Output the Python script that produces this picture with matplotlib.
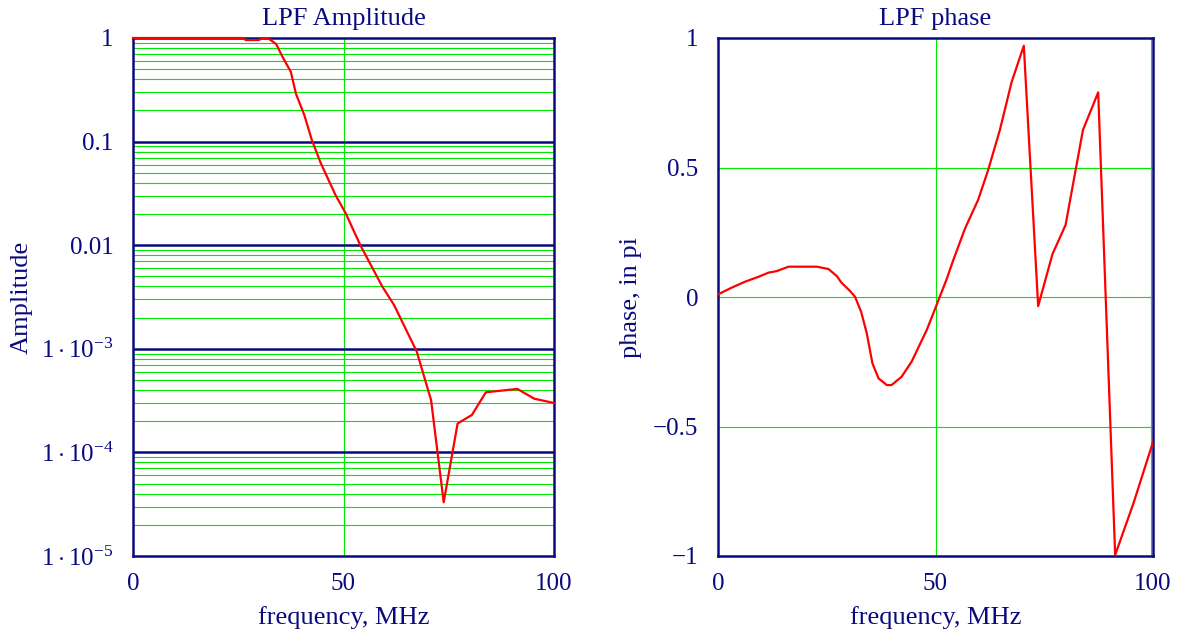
import numpy as np
import matplotlib
matplotlib.use('Agg')
import matplotlib.pyplot as plt
from matplotlib.ticker import FixedLocator, NullLocator

# Data:
freq_amp = [0, 26, 26.8, 29.8, 31, 32.3, 34, 35.5, 37.5, 38.7, 40.7, 42.5, 44.6,
            48.1, 50.5, 54, 59.2, 62, 67.4, 70.8, 73.8, 77.1, 80.5, 83.8,
            91.3, 95.3, 100]
amplitude = [1.0, 1.0, 0.956, 0.956, 1.0, 0.98, 0.875, 0.66, 0.47, 0.29, 0.18,
             0.103, 0.062, 0.0305, 0.0204, 0.0100, 0.0040, 0.00265, 0.00094,
             3.2e-4, 3.3e-5, 1.9e-4, 2.3e-4, 3.8e-4, 4.1e-4, 3.3e-4, 3.0e-4]

freq_phase = [0, 3, 6.2, 9.3, 11.6, 13.5, 16.2, 22.7, 25.4, 27.3, 28.4, 30.3,
              31.5, 32.9, 34.2, 35.5, 36.9, 38.8, 39.9, 42.2, 44.5, 48, 49.5,
              52.5, 54.1, 56.8, 59.8, 62.1, 64.8, 67.5, 70.3, 73.6, 76.9, 79.9,
              83.9, 87.4, 91.3, 95.5, 100]
phase = [0.01, 0.035, 0.059, 0.078, 0.094, 0.100, 0.117, 0.117, 0.108, 0.081,
         0.055, 0.024, 0.001, -0.057, -0.14, -0.256, -0.314, -0.34, -0.34,
         -0.308, -0.25, -0.127, -0.063, 0.066, 0.143, 0.265, 0.375, 0.49,
         0.645, 0.83, 0.97, -0.035, 0.166, 0.278, 0.645, 0.79, -0.996, -0.797,
         -0.56]

amp_ticks = [1, 0.1, 0.01, 1e-3, 1e-4, 1e-5]
amp_ticklabels = ['1', '0.1', '0.01', r'$1\cdot10^{-3}$', r'$1\cdot10^{-4}$',
                  r'$1\cdot10^{-5}$']
phase_ticks = [1, 0.5, 0, -0.5, -1]
phase_ticklabels = ['1', '0.5', '0', '\u22120.5', '\u22121']
x_ticks = [0, 50, 100]

navy = '#0a0a80'
green = '#00e800'

plt.rcParams['font.family'] = ['Liberation Serif', 'DejaVu Serif']
plt.rcParams['mathtext.fontset'] = 'custom'
plt.rcParams['mathtext.rm'] = 'Liberation Serif'
plt.rcParams['mathtext.it'] = 'Liberation Serif'
plt.rcParams['font.size'] = 16

fig = plt.figure(figsize=(11.78, 6.3), dpi=100)
ax1 = fig.add_axes([133/1178, 1-556/630, 421/1178, 518/630])
ax2 = fig.add_axes([718/1178, 1-556/630, 435/1178, 518/630])

# Amplitude (log scale)
ax1.set_yscale('log')
ax1.set_xlim(0, 100)
ax1.set_ylim(1e-5, 1)
for dec in range(-5, 0):
    for m in range(2, 10):
        ax1.axhline(m * 10.0**dec, color=green, lw=0.8, zorder=1)
for dec in [1e-4, 1e-3, 1e-2, 1e-1]:
    ax1.axhline(dec, color=navy, lw=1.8, zorder=1.5)
ax1.axvline(50, color=green, lw=0.8, zorder=1)
ax1.plot(freq_amp, amplitude, color='red', lw=1.6, zorder=3, clip_on=False)
ax1.yaxis.set_major_locator(FixedLocator(amp_ticks))
ax1.yaxis.set_minor_locator(NullLocator())
ax1.set_yticklabels(amp_ticklabels)
ax1.set_xticks(x_ticks)
ax1.set_title('LPF Amplitude', color=navy, fontsize=19, pad=9)
ax1.set_xlabel('frequency, MHz', color=navy, fontsize=19, labelpad=8)
ax1.set_ylabel('Amplitude', color=navy, fontsize=19, labelpad=6)

# Phase
ax2.set_xlim(0, 100)
ax2.set_ylim(-1, 1)
for v in [-0.5, 0, 0.5]:
    ax2.axhline(v, color=green, lw=0.8, zorder=1)
for v in [50, 99.6]:
    ax2.axvline(v, color=green, lw=0.8, zorder=1)
ax2.plot(freq_phase, phase, color='red', lw=1.6, zorder=3)
ax2.set_yticks(phase_ticks)
ax2.set_yticklabels(phase_ticklabels)
ax2.set_xticks(x_ticks)
ax2.set_title('LPF phase', color=navy, fontsize=19, pad=9)
ax2.set_xlabel('frequency, MHz', color=navy, fontsize=19, labelpad=8)
ax2.set_ylabel('phase, in pi', color=navy, fontsize=19, labelpad=8)

for ax in [ax1, ax2]:
    for s in ax.spines.values():
        s.set_color(navy)
        s.set_linewidth(1.8)
    ax.tick_params(length=0, colors=navy, labelsize=18)
    ax.tick_params(axis='y', pad=14)
    ax.tick_params(axis='x', pad=12)

fig.savefig('out.png', dpi=100)
